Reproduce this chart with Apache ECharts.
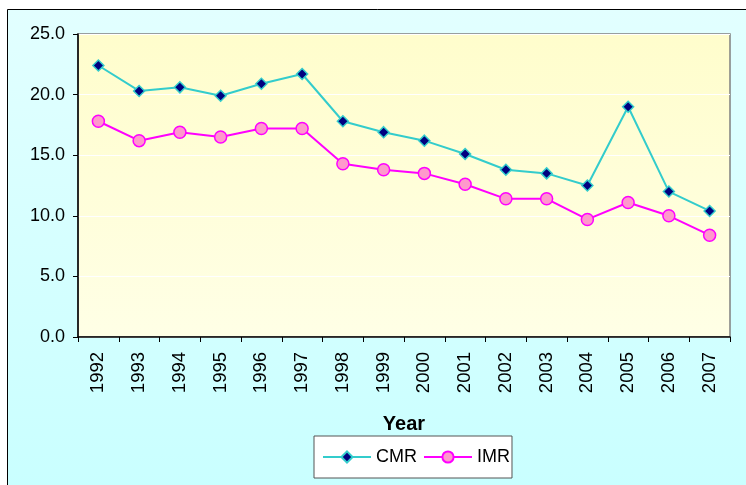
<!DOCTYPE html>
<html>
<head>
<meta charset="utf-8">
<script src="https://cdn.jsdelivr.net/npm/echarts@6/dist/echarts.min.js"></script>
<style>
html,body{margin:0;padding:0;background:#ffffff;}
#chart{width:746px;height:485px;}
</style>
</head>
<body>
<div id="chart"></div>
<script>
var years = ['1992','1993','1994','1995','1996','1997','1998','1999','2000','2001','2002','2003','2004','2005','2006','2007'];
var cmr = [22.4,20.3,20.6,19.9,20.9,21.7,17.8,16.9,16.2,15.1,13.8,13.5,12.5,19.0,12.0,10.4];
var imr = [17.8,16.2,16.9,16.5,17.2,17.2,14.3,13.8,13.5,12.6,11.4,11.4,9.7,11.1,10.0,8.4];
var yTicks = {min:0, max:25, interval:5};

var chart = echarts.init(document.getElementById('chart'), null, {renderer:'canvas'});
var font = 'Liberation Sans, Arial, sans-serif';
chart.setOption({
  animation:false,
  backgroundColor:'#ffffff',
  graphic:[{
    type:'rect', z:-10, silent:true,
    shape:{x:7.5, y:9.5, width:760, height:500},
    style:{
      fill:{type:'linear',x:0,y:0,x2:0,y2:1,colorStops:[{offset:0,color:'#E2FFFF'},{offset:1,color:'#C8FFFF'}]},
      stroke:'#000000', lineWidth:1
    }
  }],
  grid:{
    left:78, top:34, right:16, bottom:148,
    show:true,
    backgroundColor:{type:'linear',x:0,y:0,x2:0,y2:1,colorStops:[{offset:0,color:'#FFFDCC'},{offset:1,color:'#FFFFE6'}]},
    borderColor:'#808080', borderWidth:1.5
  },
  legend:{
    left:314, top:436,
    backgroundColor:'#ffffff', borderColor:'#555555', borderWidth:1,
    padding:[12,2,12,8],
    itemWidth:48, itemHeight:14, itemGap:6,
    textStyle:{fontFamily:font, fontSize:18, color:'#000'},
    data:['CMR','IMR']
  },
  xAxis:{
    type:'category', data:years, boundaryGap:true,
    name:'Year', nameLocation:'middle', nameGap:77,
    nameTextStyle:{fontFamily:font, fontSize:20, fontWeight:'bold', color:'#000'},
    axisLine:{lineStyle:{color:'#000', width:1.5}},
    axisTick:{show:true, alignWithLabel:false, length:5, lineStyle:{color:'#000'}},
    axisLabel:{rotate:90, margin:15, fontFamily:font, fontSize:18.5, color:'#000', interval:0}
  },
  yAxis:{
    type:'value', min:yTicks.min, max:yTicks.max, interval:yTicks.interval,
    axisLine:{show:true, lineStyle:{color:'#000', width:1.5}},
    axisTick:{show:true, length:5, lineStyle:{color:'#000'}},
    axisLabel:{margin:13, fontFamily:font, fontSize:18, color:'#000', formatter:function(v){return v.toFixed(1);}},
    splitLine:{show:true, lineStyle:{color:'#ffffff', width:1}}
  },
  series:[
    {name:'CMR', type:'line', data:cmr, symbol:'diamond', symbolSize:11,
     lineStyle:{color:'#33CCCC', width:2},
     itemStyle:{color:'#000080', borderColor:'#33CCCC', borderWidth:1.5}},
    {name:'IMR', type:'line', data:imr, symbol:'circle', symbolSize:12,
     lineStyle:{color:'#FF00FF', width:2},
     itemStyle:{color:'#FF99CC', borderColor:'#FF00FF', borderWidth:1.5}}
  ]
});
</script>
</body>
</html>
